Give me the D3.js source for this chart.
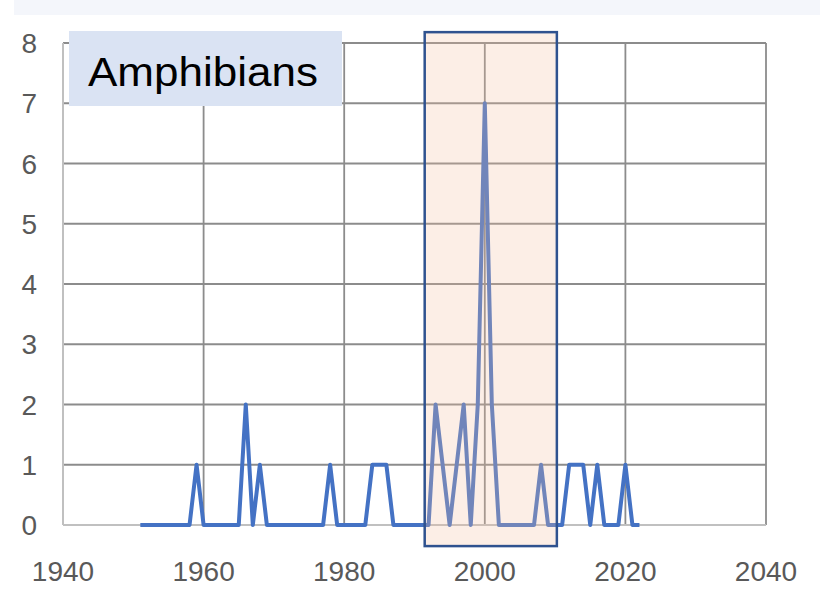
<!DOCTYPE html>
<html>
<head>
<meta charset="utf-8">
<script src="https://cdn.jsdelivr.net/npm/d3@7"></script>
<style>
  body { margin: 0; background: #fff; }
  svg { display: block; font-family: "Liberation Sans", Arial, sans-serif; }
</style>
</head>
<body>
<svg></svg>
<script>
// amphibians per year
var years = [1951, 1952, 1953, 1954, 1955, 1956, 1957, 1958, 1959, 1960,
             1961, 1962, 1963, 1964, 1965, 1966, 1967, 1968, 1969, 1970,
             1971, 1972, 1973, 1974, 1975, 1976, 1977, 1978, 1979, 1980,
             1981, 1982, 1983, 1984, 1985, 1986, 1987, 1988, 1989, 1990,
             1991, 1992, 1993, 1994, 1995, 1996, 1997, 1998, 1999, 2000,
             2001, 2002, 2003, 2004, 2005, 2006, 2007, 2008, 2009, 2010,
             2011, 2012, 2013, 2014, 2015, 2016, 2017, 2018, 2019, 2020,
             2021, 2022]
var counts = [0, 0, 0, 0, 0, 0, 0, 0, 1, 0,
              0, 0, 0, 0, 0, 2, 0, 1, 0, 0,
              0, 0, 0, 0, 0, 0, 0, 1, 0, 0,
              0, 0, 0, 1, 1, 1, 0, 0, 0, 0,
              0, 0, 2, 1, 0, 1, 2, 0, 2, 7,
              2, 0, 0, 0, 0, 0, 0, 1, 0, 0,
              0, 1, 1, 1, 0, 1, 0, 0, 0, 1,
              0, 0]
var xTicks = [1940, 1960, 1980, 2000, 2020, 2040]
var yTicks = [0, 1, 2, 3, 4, 5, 6, 7, 8]
var highlight = [1991.45, 2010.25]
var title = 'Amphibians'

var width = 820
var height = 591

var data = years.map((y, i) => ({ year: y, n: counts[i] }))

var xScale = d3.scaleLinear().domain([1940, 2040]).range([63, 766])
var yScale = d3.scaleLinear().domain([0, 8]).range([525, 43])

var svg = d3.select('svg')
    .attr('width', width)
    .attr('height', height)

// pale strip along the top
svg.append('rect')
    .attr('x', 14).attr('y', 0)
    .attr('width', width - 14).attr('height', 15)
    .attr('fill', '#f4f6fb')

// gridlines
svg.append('g')
  .selectAll('line')
  .data(yTicks.slice(1))
  .enter().append('line')
    .attr('x1', xScale(1940)).attr('x2', xScale(2040))
    .attr('y1', d => yScale(d)).attr('y2', d => yScale(d))
    .attr('stroke', '#8c8c8c').attr('stroke-width', 1.8)

svg.append('g')
  .selectAll('line')
  .data(xTicks.slice(1))
  .enter().append('line')
    .attr('x1', d => xScale(d)).attr('x2', d => xScale(d))
    .attr('y1', yScale(0)).attr('y2', yScale(8))
    .attr('stroke', '#8c8c8c').attr('stroke-width', 1.8)

// axis lines
svg.append('line')
    .attr('x1', xScale(1940)).attr('x2', xScale(1940))
    .attr('y1', yScale(0)).attr('y2', yScale(8))
    .attr('stroke', '#c0c0c0').attr('stroke-width', 2)
svg.append('line')
    .attr('x1', xScale(1940)).attr('x2', xScale(2040))
    .attr('y1', yScale(0)).attr('y2', yScale(0))
    .attr('stroke', '#c0c0c0').attr('stroke-width', 2)

// tick labels
svg.append('g')
  .selectAll('text')
  .data(xTicks)
  .enter().append('text')
    .attr('x', d => xScale(d))
    .attr('y', 581)
    .attr('text-anchor', 'middle')
    .attr('font-size', 28)
    .attr('fill', '#595959')
    .text(d => d)

svg.append('g')
  .selectAll('text')
  .data(yTicks)
  .enter().append('text')
    .attr('x', 37)
    .attr('y', d => yScale(d) + 10)
    .attr('text-anchor', 'end')
    .attr('font-size', 28)
    .attr('fill', '#595959')
    .text(d => d)

// the series
var line = d3.line()
    .x(d => xScale(d.year))
    .y(d => yScale(d.n))

svg.append('path')
    .datum(data)
    .attr('d', line)
    .attr('fill', 'none')
    .attr('stroke', '#4472c4')
    .attr('stroke-width', 4)
    .attr('stroke-linejoin', 'round')

// translucent box over the 1990s-2000s
svg.append('rect')
    .attr('x', xScale(highlight[0]))
    .attr('y', yScale(8.18))
    .attr('width', xScale(highlight[1]) - xScale(highlight[0]))
    .attr('height', yScale(-0.35) - yScale(8.18))
    .attr('fill', 'rgb(242,190,160)')
    .attr('fill-opacity', 0.26)
    .attr('stroke', '#2f528f')
    .attr('stroke-width', 2.5)

// title box
svg.append('rect')
    .attr('x', 69).attr('y', 31)
    .attr('width', 273).attr('height', 75)
    .attr('fill', '#dae3f3')

svg.append('text')
    .attr('x', 88)
    .attr('y', 86)
    .attr('font-size', 40)
    .attr('fill', '#000')
    .attr('textLength', 230)
    .attr('lengthAdjust', 'spacingAndGlyphs')
    .text(title)
</script>
</body>
</html>
